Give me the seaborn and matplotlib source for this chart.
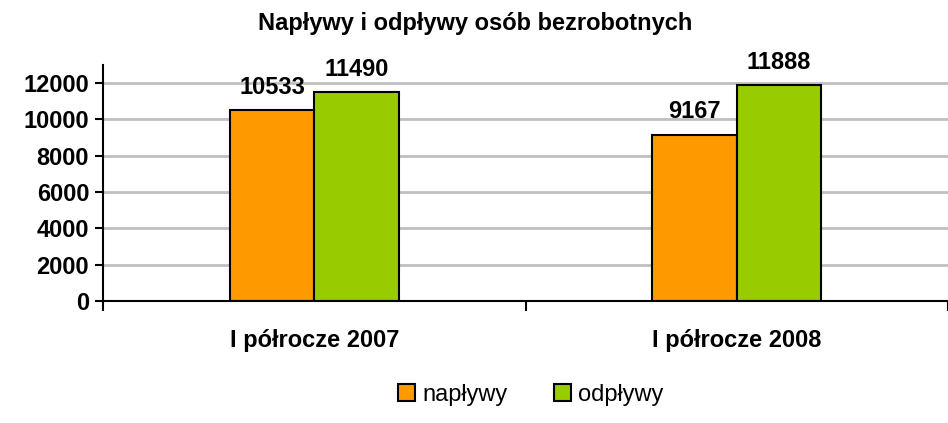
import pandas as pd
import matplotlib.pyplot as plt
import seaborn as sns

# Data
periods = ["I półrocze 2007", "I półrocze 2008"]
series = ["napływy", "odpływy"]
naplywy = [10533, 9167]
odplywy = [11490, 11888]
colors = ["#FF9900", "#99CC00"]

df = pd.DataFrame({
    "okres": periods * 2,
    "seria": [series[0]] * 2 + [series[1]] * 2,
    "wartosc": naplywy + odplywy,
})

sns.set_style("white")
plt.rcParams["font.family"] = ["Liberation Sans", "DejaVu Sans"]
plt.rcParams["text.color"] = "black"
plt.rcParams["xtick.color"] = "black"
plt.rcParams["ytick.color"] = "black"

fig = plt.figure(figsize=(9.48, 4.23), dpi=100)
ax = fig.add_axes([0.1087, 0.2884, 0.8913, 0.558])

sns.barplot(data=df, x="okres", y="wartosc", hue="seria", palette=colors,
            saturation=1, width=0.4, edgecolor="black", linewidth=1.5,
            ax=ax, legend=True)

for c in ax.containers:
    ax.bar_label(c, fmt="%d", padding=8, fontsize=17, fontweight="bold")

ax.set_xlim(-0.5, 1.479)
ax.set_ylim(0, 13000)
ax.set_yticks(range(0, 12001, 2000))
ax.yaxis.grid(True, color="#c0c0c0", linewidth=2)
ax.set_axisbelow(True)
ax.set_xlabel("")
ax.set_ylabel("")

for s in ["top", "right"]:
    ax.spines[s].set_visible(False)
for s in ["left", "bottom"]:
    ax.spines[s].set_color("black")
    ax.spines[s].set_linewidth(1.5)

ax.tick_params(axis="y", left=True, length=6, width=1.5, labelsize=17, pad=4)
ax.tick_params(axis="x", bottom=False, labelsize=17, pad=17)
for lbl in ax.get_yticklabels() + ax.get_xticklabels():
    lbl.set_fontweight("bold")

# boundary ticks between categories
ax.set_xticks([-0.5, 0.5, 1.5], minor=True)
ax.tick_params(axis="x", which="minor", bottom=True, length=7, width=1.5)

ax.set_title("Napływy i odpływy osób bezrobotnych", fontsize=17,
             fontweight="bold", pad=25, x=0.44)

handles, labels = ax.get_legend_handles_labels()
ax.get_legend().remove()
fig.legend(handles, labels, loc="lower center", bbox_to_anchor=(0.56, -0.01),
           ncol=2, frameon=False, fontsize=17, handlelength=0.7,
           handleheight=0.7, handletextpad=0.3, columnspacing=2.0)

plt.savefig("out.png", dpi=100)
